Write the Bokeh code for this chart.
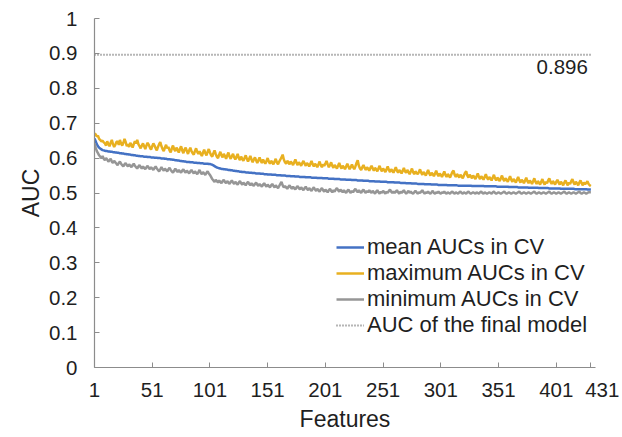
from bokeh.plotting import figure
from bokeh.models import (Range1d, FixedTicker, CustomJSTickFormatter, Legend,
                          LegendItem, Label, ColumnDataSource)
from bokeh.embed import file_html
from bokeh.resources import INLINE

# ---------------- data ----------------
features = list(range(1, 432))
x_tick_values = [1, 51, 101, 151, 201, 251, 301, 351, 401, 431]
y_tick_values = [0, 0.1, 0.2, 0.3, 0.4, 0.5, 0.6, 0.7, 0.8, 0.9, 1]
final_auc = 0.896

mean_auc = [
    0.656, 0.648, 0.640, 0.634, 0.630, 0.627, 0.625, 0.623, 0.622, 0.621,
    0.620, 0.620, 0.619, 0.619, 0.618, 0.618, 0.617, 0.617, 0.616, 0.616,
    0.615, 0.615, 0.614, 0.614, 0.613, 0.613, 0.612, 0.612, 0.611, 0.611,
    0.610, 0.610, 0.609, 0.609, 0.608, 0.608, 0.607, 0.607, 0.606, 0.606,
    0.605, 0.605, 0.605, 0.604, 0.604, 0.604, 0.603, 0.603, 0.603, 0.602,
    0.602, 0.602, 0.601, 0.601, 0.601, 0.600, 0.600, 0.600, 0.599, 0.599,
    0.599, 0.598, 0.598, 0.597, 0.597, 0.597, 0.596, 0.596, 0.595, 0.595,
    0.594, 0.594, 0.593, 0.593, 0.592, 0.592, 0.591, 0.591, 0.590, 0.590,
    0.589, 0.589, 0.589, 0.588, 0.588, 0.588, 0.587, 0.587, 0.587, 0.586,
    0.586, 0.586, 0.585, 0.585, 0.585, 0.584, 0.584, 0.584, 0.584, 0.583,
    0.583, 0.582, 0.581, 0.579, 0.577, 0.575, 0.573, 0.572, 0.571, 0.570,
    0.569, 0.569, 0.568, 0.568, 0.567, 0.567, 0.566, 0.566, 0.565, 0.565,
    0.564, 0.564, 0.563, 0.563, 0.562, 0.562, 0.561, 0.561, 0.560, 0.560,
    0.560, 0.559, 0.559, 0.559, 0.558, 0.558, 0.558, 0.557, 0.557, 0.557,
    0.556, 0.556, 0.556, 0.556, 0.555, 0.555, 0.555, 0.554, 0.554, 0.554,
    0.553, 0.553, 0.553, 0.553, 0.552, 0.552, 0.552, 0.552, 0.551, 0.551,
    0.551, 0.551, 0.550, 0.550, 0.550, 0.550, 0.549, 0.549, 0.549, 0.549,
    0.548, 0.548, 0.548, 0.548, 0.547, 0.547, 0.547, 0.547, 0.546, 0.546,
    0.546, 0.546, 0.546, 0.545, 0.545, 0.545, 0.545, 0.545, 0.544, 0.544,
    0.544, 0.544, 0.544, 0.543, 0.543, 0.543, 0.543, 0.543, 0.542, 0.542,
    0.542, 0.542, 0.542, 0.541, 0.541, 0.541, 0.541, 0.541, 0.540, 0.540,
    0.540, 0.540, 0.540, 0.539, 0.539, 0.539, 0.539, 0.539, 0.538, 0.538,
    0.538, 0.538, 0.538, 0.537, 0.537, 0.537, 0.537, 0.537, 0.536, 0.536,
    0.536, 0.536, 0.536, 0.535, 0.535, 0.535, 0.535, 0.535, 0.534, 0.534,
    0.534, 0.534, 0.534, 0.533, 0.533, 0.533, 0.533, 0.533, 0.532, 0.532,
    0.532, 0.532, 0.532, 0.532, 0.531, 0.531, 0.531, 0.531, 0.531, 0.531,
    0.530, 0.530, 0.530, 0.530, 0.530, 0.529, 0.529, 0.529, 0.529, 0.529,
    0.528, 0.528, 0.528, 0.528, 0.528, 0.527, 0.527, 0.527, 0.527, 0.527,
    0.526, 0.526, 0.526, 0.526, 0.526, 0.526, 0.525, 0.525, 0.525, 0.525,
    0.525, 0.525, 0.524, 0.524, 0.524, 0.524, 0.524, 0.524, 0.523, 0.523,
    0.523, 0.523, 0.523, 0.523, 0.523, 0.523, 0.522, 0.522, 0.522, 0.522,
    0.522, 0.522, 0.522, 0.522, 0.522, 0.521, 0.521, 0.521, 0.521, 0.521,
    0.521, 0.521, 0.521, 0.521, 0.521, 0.521, 0.521, 0.520, 0.520, 0.520,
    0.520, 0.520, 0.520, 0.520, 0.520, 0.520, 0.520, 0.520, 0.519, 0.519,
    0.519, 0.519, 0.519, 0.519, 0.519, 0.519, 0.519, 0.519, 0.519, 0.518,
    0.518, 0.518, 0.518, 0.518, 0.518, 0.518, 0.518, 0.518, 0.518, 0.517,
    0.517, 0.517, 0.517, 0.517, 0.517, 0.517, 0.517, 0.516, 0.516, 0.516,
    0.516, 0.516, 0.516, 0.516, 0.516, 0.516, 0.515, 0.515, 0.515, 0.515,
    0.515, 0.515, 0.515, 0.515, 0.515, 0.514, 0.514, 0.514, 0.514, 0.514,
    0.514, 0.514, 0.514, 0.514, 0.513, 0.513, 0.513, 0.513, 0.513, 0.513,
    0.513, 0.513, 0.513, 0.513, 0.512, 0.512, 0.512, 0.512, 0.512, 0.512,
    0.512, 0.512, 0.512, 0.512, 0.512, 0.512, 0.511, 0.511, 0.511, 0.511,
    0.511, 0.511, 0.511, 0.511, 0.511, 0.511, 0.511, 0.510, 0.510, 0.510, 0.510,
]

max_auc = [
    0.670, 0.668, 0.662, 0.664, 0.655, 0.652, 0.648, 0.650, 0.645, 0.642,
    0.636, 0.648, 0.640, 0.634, 0.644, 0.652, 0.640, 0.632, 0.638, 0.646,
    0.648, 0.638, 0.652, 0.642, 0.636, 0.644, 0.655, 0.646, 0.634, 0.640,
    0.632, 0.644, 0.638, 0.630, 0.640, 0.648, 0.642, 0.652, 0.640, 0.634,
    0.628, 0.636, 0.642, 0.634, 0.626, 0.636, 0.644, 0.638, 0.630, 0.624,
    0.634, 0.642, 0.636, 0.628, 0.622, 0.632, 0.640, 0.646, 0.634, 0.626,
    0.620, 0.630, 0.638, 0.628, 0.632, 0.622, 0.616, 0.628, 0.636, 0.626,
    0.620, 0.630, 0.624, 0.616, 0.626, 0.634, 0.622, 0.614, 0.624, 0.630,
    0.620, 0.612, 0.622, 0.630, 0.620, 0.614, 0.610, 0.620, 0.628, 0.618,
    0.612, 0.620, 0.612, 0.606, 0.616, 0.624, 0.614, 0.608, 0.618, 0.626,
    0.616, 0.608, 0.604, 0.614, 0.622, 0.612, 0.604, 0.600, 0.610, 0.618,
    0.608, 0.602, 0.612, 0.606, 0.598, 0.608, 0.616, 0.604, 0.598, 0.606,
    0.612, 0.602, 0.596, 0.604, 0.612, 0.600, 0.594, 0.604, 0.598, 0.592,
    0.600, 0.608, 0.598, 0.590, 0.598, 0.606, 0.596, 0.588, 0.596, 0.602,
    0.594, 0.586, 0.594, 0.602, 0.592, 0.586, 0.596, 0.590, 0.584, 0.592,
    0.600, 0.590, 0.584, 0.592, 0.588, 0.582, 0.590, 0.598, 0.588, 0.582,
    0.590, 0.596, 0.602, 0.610, 0.596, 0.588, 0.584, 0.592, 0.588, 0.582,
    0.590, 0.586, 0.580, 0.588, 0.596, 0.586, 0.580, 0.588, 0.584, 0.578,
    0.586, 0.592, 0.584, 0.578, 0.586, 0.582, 0.576, 0.584, 0.592, 0.582,
    0.576, 0.584, 0.580, 0.574, 0.582, 0.590, 0.580, 0.574, 0.582, 0.578,
    0.584, 0.592, 0.582, 0.574, 0.580, 0.588, 0.578, 0.572, 0.580, 0.576,
    0.570, 0.578, 0.586, 0.576, 0.570, 0.578, 0.574, 0.568, 0.576, 0.584,
    0.576, 0.568, 0.574, 0.582, 0.574, 0.568, 0.576, 0.586, 0.594, 0.578,
    0.570, 0.566, 0.574, 0.580, 0.572, 0.566, 0.574, 0.570, 0.564, 0.572,
    0.578, 0.570, 0.564, 0.572, 0.568, 0.562, 0.570, 0.578, 0.568, 0.562,
    0.570, 0.566, 0.560, 0.568, 0.576, 0.566, 0.560, 0.568, 0.564, 0.558,
    0.566, 0.574, 0.564, 0.558, 0.566, 0.562, 0.556, 0.564, 0.572, 0.562,
    0.558, 0.566, 0.560, 0.554, 0.562, 0.570, 0.560, 0.554, 0.562, 0.558,
    0.554, 0.560, 0.568, 0.558, 0.552, 0.560, 0.556, 0.550, 0.558, 0.566,
    0.556, 0.550, 0.558, 0.554, 0.548, 0.556, 0.564, 0.554, 0.548, 0.556,
    0.552, 0.546, 0.554, 0.562, 0.552, 0.546, 0.554, 0.550, 0.544, 0.552,
    0.560, 0.564, 0.552, 0.546, 0.554, 0.550, 0.544, 0.552, 0.548, 0.542,
    0.550, 0.558, 0.562, 0.550, 0.544, 0.552, 0.548, 0.542, 0.550, 0.546,
    0.540, 0.548, 0.556, 0.546, 0.540, 0.548, 0.544, 0.538, 0.546, 0.554,
    0.544, 0.538, 0.546, 0.542, 0.536, 0.544, 0.552, 0.542, 0.536, 0.544,
    0.540, 0.534, 0.542, 0.550, 0.540, 0.534, 0.542, 0.538, 0.532, 0.540,
    0.548, 0.538, 0.532, 0.540, 0.536, 0.530, 0.538, 0.546, 0.536, 0.530,
    0.538, 0.534, 0.528, 0.536, 0.544, 0.534, 0.528, 0.536, 0.532, 0.526,
    0.534, 0.542, 0.532, 0.526, 0.534, 0.530, 0.524, 0.532, 0.540, 0.530,
    0.524, 0.532, 0.528, 0.536, 0.542, 0.532, 0.526, 0.534, 0.530, 0.524,
    0.532, 0.538, 0.530, 0.524, 0.532, 0.528, 0.522, 0.530, 0.536, 0.528,
    0.522, 0.530, 0.526, 0.534, 0.540, 0.530, 0.524, 0.532, 0.528, 0.522,
    0.530, 0.536, 0.528, 0.522, 0.530, 0.526, 0.528, 0.534, 0.526, 0.522, 0.520,
]

min_auc = [
    0.642, 0.630, 0.620, 0.614, 0.608, 0.604, 0.600, 0.606, 0.598, 0.594,
    0.600, 0.596, 0.590, 0.594, 0.598, 0.590, 0.586, 0.592, 0.588, 0.584,
    0.580, 0.586, 0.590, 0.584, 0.580, 0.576, 0.582, 0.586, 0.580, 0.576,
    0.582, 0.578, 0.574, 0.580, 0.584, 0.578, 0.574, 0.570, 0.576, 0.580,
    0.574, 0.570, 0.576, 0.572, 0.568, 0.574, 0.578, 0.572, 0.568, 0.574,
    0.570, 0.566, 0.572, 0.576, 0.570, 0.566, 0.562, 0.568, 0.574, 0.568,
    0.564, 0.570, 0.566, 0.562, 0.568, 0.572, 0.566, 0.562, 0.558, 0.564,
    0.570, 0.564, 0.560, 0.566, 0.562, 0.558, 0.564, 0.568, 0.562, 0.558,
    0.564, 0.560, 0.556, 0.562, 0.566, 0.560, 0.556, 0.562, 0.558, 0.554,
    0.560, 0.566, 0.558, 0.554, 0.560, 0.556, 0.552, 0.558, 0.562, 0.556,
    0.552, 0.546, 0.540, 0.536, 0.532, 0.538, 0.534, 0.530, 0.536, 0.532,
    0.528, 0.534, 0.538, 0.532, 0.528, 0.534, 0.530, 0.526, 0.532, 0.536,
    0.530, 0.526, 0.532, 0.528, 0.524, 0.530, 0.534, 0.528, 0.524, 0.530,
    0.526, 0.522, 0.528, 0.532, 0.526, 0.522, 0.528, 0.524, 0.520, 0.526,
    0.530, 0.524, 0.520, 0.526, 0.522, 0.518, 0.524, 0.528, 0.522, 0.518,
    0.524, 0.520, 0.516, 0.522, 0.526, 0.520, 0.516, 0.522, 0.518, 0.514,
    0.520, 0.526, 0.532, 0.522, 0.516, 0.520, 0.516, 0.512, 0.518, 0.522,
    0.516, 0.512, 0.518, 0.514, 0.510, 0.516, 0.520, 0.514, 0.510, 0.516,
    0.512, 0.508, 0.514, 0.518, 0.512, 0.508, 0.514, 0.510, 0.506, 0.512,
    0.516, 0.510, 0.506, 0.512, 0.508, 0.504, 0.510, 0.514, 0.508, 0.504,
    0.510, 0.506, 0.502, 0.508, 0.512, 0.506, 0.502, 0.508, 0.504, 0.510,
    0.514, 0.508, 0.504, 0.510, 0.506, 0.502, 0.508, 0.504, 0.500, 0.506,
    0.510, 0.504, 0.500, 0.506, 0.502, 0.508, 0.512, 0.506, 0.502, 0.508,
    0.504, 0.500, 0.506, 0.510, 0.504, 0.500, 0.506, 0.502, 0.508, 0.504,
    0.500, 0.506, 0.502, 0.498, 0.504, 0.508, 0.502, 0.498, 0.504, 0.500,
    0.506, 0.502, 0.498, 0.504, 0.500, 0.506, 0.510, 0.504, 0.500, 0.504,
    0.500, 0.504, 0.508, 0.502, 0.498, 0.504, 0.500, 0.504, 0.508, 0.502,
    0.498, 0.502, 0.506, 0.500, 0.504, 0.500, 0.498, 0.502, 0.506, 0.502,
    0.498, 0.502, 0.500, 0.504, 0.508, 0.502, 0.498, 0.502, 0.500, 0.504,
    0.500, 0.498, 0.502, 0.506, 0.500, 0.498, 0.502, 0.500, 0.504, 0.500,
    0.498, 0.502, 0.500, 0.504, 0.500, 0.498, 0.502, 0.500, 0.498, 0.502,
    0.504, 0.500, 0.498, 0.502, 0.500, 0.498, 0.502, 0.504, 0.500, 0.498,
    0.502, 0.500, 0.498, 0.502, 0.504, 0.500, 0.498, 0.500, 0.502, 0.500,
    0.498, 0.502, 0.500, 0.498, 0.502, 0.504, 0.500, 0.498, 0.502, 0.500,
    0.498, 0.500, 0.502, 0.500, 0.498, 0.502, 0.504, 0.500, 0.498, 0.500,
    0.502, 0.500, 0.498, 0.500, 0.502, 0.504, 0.500, 0.498, 0.500, 0.502,
    0.500, 0.498, 0.500, 0.502, 0.500, 0.498, 0.500, 0.502, 0.504, 0.500,
    0.498, 0.500, 0.502, 0.500, 0.498, 0.500, 0.502, 0.500, 0.498, 0.500,
    0.502, 0.504, 0.500, 0.498, 0.500, 0.502, 0.500, 0.498, 0.500, 0.502,
    0.500, 0.498, 0.500, 0.502, 0.504, 0.500, 0.498, 0.500, 0.502, 0.500,
    0.498, 0.500, 0.502, 0.500, 0.498, 0.500, 0.502, 0.504, 0.500, 0.498,
    0.500, 0.502, 0.500, 0.498, 0.500, 0.502, 0.500, 0.498, 0.500, 0.502,
    0.504, 0.500, 0.498, 0.500, 0.502, 0.500, 0.498, 0.500, 0.502, 0.502, 0.502,
]

series_labels = ["mean AUCs in CV", "maximum AUCs in CV", "minimum AUCs in CV",
                 "AUC of the final model"]

# ---------------- styling ----------------
FONT = "Liberation Sans"
TEXT = "#1f1f1f"
AXIS = "#8c8c8c"
BLUE = "#4472C4"
GOLD = "#E8B020"
GREY = "#969696"
DOT = "#6e6e6e"

source = ColumnDataSource(dict(
    f=features, mean=mean_auc, max=max_auc, min=min_auc,
    final=[final_auc] * len(features),
))

p = figure(width=622, height=437, output_backend="svg", toolbar_location=None,
           x_range=Range1d(1, 435), y_range=Range1d(0, 1),
           min_border_left=94, min_border_right=27, min_border_top=18,
           min_border_bottom=70)
p.outline_line_color = None
p.background_fill_color = "white"
p.border_fill_color = "white"
p.xgrid.visible = False
p.ygrid.visible = False

r_mean = p.line("f", "mean", source=source, line_color=BLUE, line_width=2.5)
r_max = p.line("f", "max", source=source, line_color=GOLD, line_width=2.5)
r_min = p.line("f", "min", source=source, line_color=GREY, line_width=2.5)
r_fin = p.line("f", "final", source=source, line_color=DOT, line_width=2,
               line_dash="1 2")

for ax in (p.xaxis[0], p.yaxis[0]):
    ax.axis_line_color = AXIS
    ax.axis_line_width = 1.2
    ax.major_tick_line_color = AXIS
    ax.major_tick_in = 5
    ax.major_tick_out = 0
    ax.minor_tick_line_color = None
    ax.major_label_text_font = FONT
    ax.major_label_text_font_size = "20.5px"
    ax.major_label_text_color = TEXT
    ax.axis_label_text_font = FONT
    ax.axis_label_text_font_size = "23px"
    ax.axis_label_text_font_style = "normal"
    ax.axis_label_text_color = TEXT

last_feature = features[-1]
p.xaxis.ticker = FixedTicker(ticks=x_tick_values)
# the last label sits a little right of its tick (as in the original):
# pad it on the left with no-break spaces
p.xaxis.formatter = CustomJSTickFormatter(
    args=dict(last=last_feature),
    code="return tick == last ? '\\u00a0\\u00a0\\u00a0\\u00a0' + tick : String(tick);")
p.xaxis.axis_label = "Features"
p.xaxis.major_label_standoff = 10
p.xaxis.axis_label_standoff = 2

p.yaxis.ticker = FixedTicker(ticks=y_tick_values)
p.yaxis.formatter = CustomJSTickFormatter(
    code="return tick.toFixed(1).replace(/\\.0$/, '');")
p.yaxis.axis_label = "AUC"
p.yaxis.major_label_standoff = 17
p.yaxis.axis_label_standoff = 2

p.add_layout(Label(x=last_feature, y=final_auc, text=f"{final_auc:.3f}",
                   text_align="right", text_baseline="top",
                   x_offset=-3, y_offset=-5, text_font=FONT,
                   text_font_size="20.5px", text_color=TEXT))

legend = Legend(items=[
    LegendItem(label=series_labels[0], renderers=[r_mean]),
    LegendItem(label=series_labels[1], renderers=[r_max]),
    LegendItem(label=series_labels[2], renderers=[r_min]),
    LegendItem(label=series_labels[3], renderers=[r_fin]),
], location=(242, 29))
legend.border_line_color = None
legend.background_fill_alpha = 0
legend.label_text_font = FONT
legend.label_text_font_size = "22px"
legend.label_text_color = TEXT
legend.glyph_width = 28
legend.glyph_height = 24
legend.label_height = 24
legend.label_standoff = 3
legend.spacing = 0
legend.padding = 0
legend.margin = 0
p.add_layout(legend, "center")

open("out.html", "w").write(file_html(p, INLINE))
